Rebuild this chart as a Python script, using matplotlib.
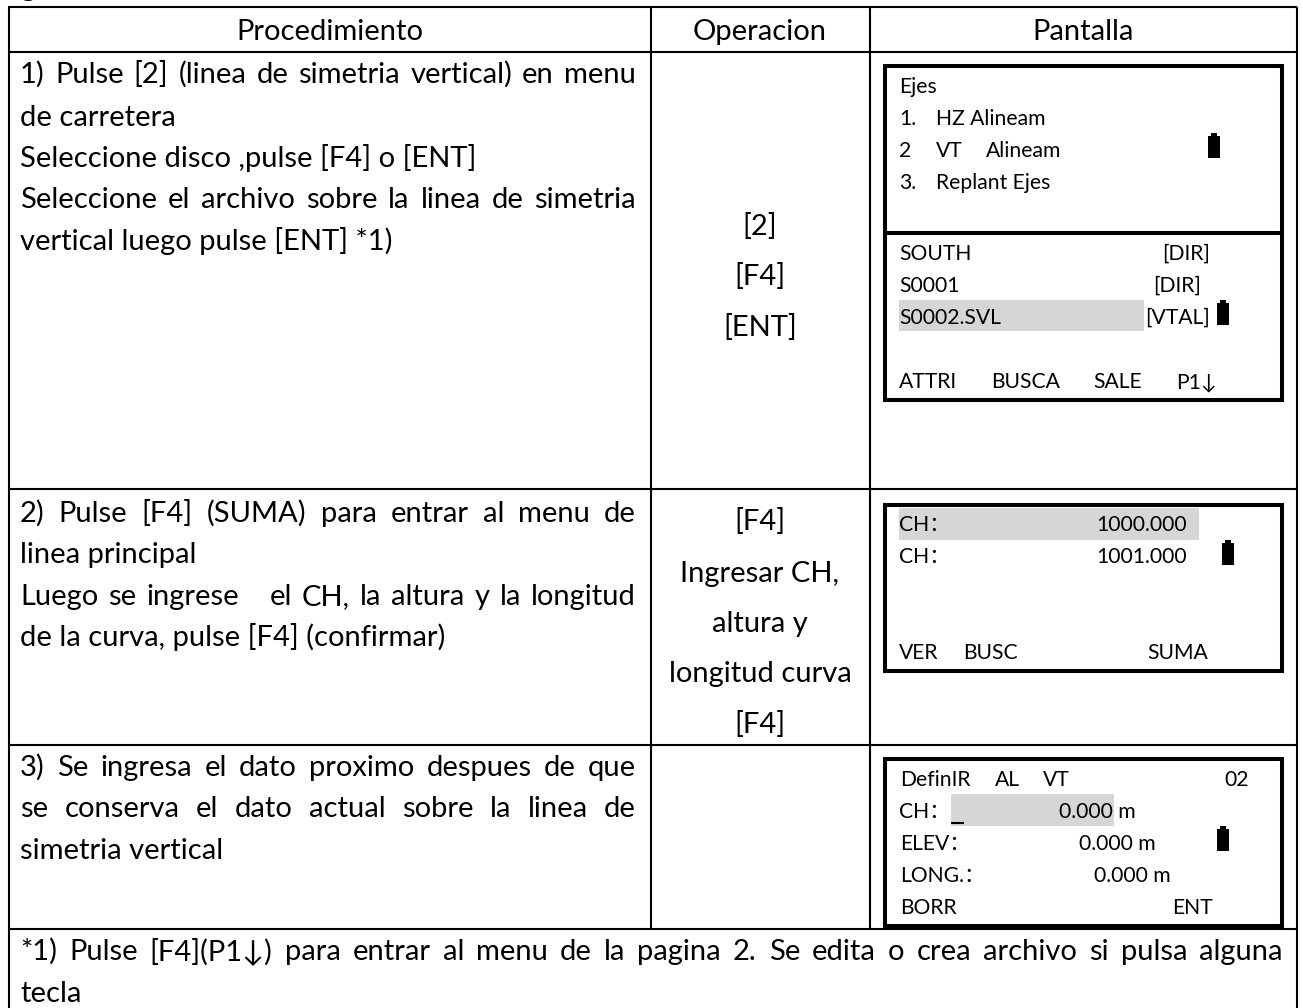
import matplotlib
matplotlib.use("Agg")
import matplotlib.pyplot as plt
from matplotlib.patches import Rectangle

FONT = ['Lato', 'Noto Sans CJK SC', 'DejaVu Sans']
plt.rcParams['font.family'] = FONT

BIG = 21
SMALL = 15.2

headers = ["Procedimiento", "Operacion", "Pantalla"]

# (texto, justificado)
proc_lines = [
    ("1) Pulse [2] (linea de simetria vertical) en menu", True),
    ("de carretera", False),
    ("Seleccione disco ,pulse [F4] o [ENT]", False),
    ("Seleccione el archivo sobre la linea de simetria", True),
    ("vertical luego pulse [ENT] *1)", False),
    ("2) Pulse [F4] (SUMA) para entrar al menu de", True),
    ("linea principal", False),
    ("Luego se ingrese   el CH, la altura y la longitud", True),
    ("de la curva, pulse [F4] (confirmar)", False),
    ("3) Se ingresa el dato proximo despues de que", True),
    ("se conserva el dato actual sobre la linea de", True),
    ("simetria vertical", False),
    ("*1) Pulse [F4](P1↓) para entrar al menu de la pagina 2. Se edita o crea archivo si pulsa alguna", True),
    ("tecla", False),
]
proc_y = [83, 126, 167, 208, 250, 522, 563, 605, 646, 776, 817, 859, 960, 1002]

oper_lines = ["[2]", "[F4]", "[ENT]", "[F4]", "Ingresar CH,", "altura y", "longitud curva", "[F4]"]
oper_y = [235, 285, 336, 530, 582, 632, 682, 733]

screen_labels = [
    "Ejes", "1.", "HZ Alineam", "2", "VT", "Alineam", "3.", "Replant Ejes",
    "SOUTH", "[DIR]", "S0001", "[DIR]", "S0002.SVL", "[VTAL]",
    "ATTRI", "BUSCA", "SALE", "P1↓",
    "CH：", "1000.000", "CH：", "1001.000", "VER", "BUSC", "SUMA",
    "DefinIR", "AL", "VT", "02", "CH：", "0.000 m", "ELEV：", "0.000 m",
    "LONG.：", "0.000 m", "BORR", "ENT",
]
screen_x = [
    899, 899, 936, 899, 936, 986, 899, 936,
    899, 1162, 899, 1153, 899, 1145,
    899, 991, 1093, 1176,
    899, 1096, 899, 1096, 899, 963, 1147,
    900, 995, 1043, 1224, 899, 1059, 900, 1079,
    900, 1094, 900, 1172,
]
screen_y = [
    93, 125, 125, 157, 157, 157, 189, 189,
    260, 260, 292, 292, 324, 324,
    388, 388, 388, 388,
    531, 531, 563, 563, 659, 659, 659,
    786, 786, 786, 786, 818, 818, 850, 850,
    882, 882, 914, 914,
]

# x0, y0, x1, y1
highlights = [(899, 300, 1144, 331), (899, 508, 1199, 540), (951, 794, 1114, 826)]
batteries = [(1208, 133), (1217, 300), (1222, 540), (1217, 826)]
screens = [(885, 66, 1282, 400), (885, 505, 1282, 671), (885, 759, 1282, 926)]

fig = plt.figure(figsize=(13.03, 10.08), dpi=100)
ax = fig.add_axes([0, 0, 1, 1])
ax.set_xlim(0, 1303)
ax.set_ylim(1008, 0)
ax.axis('off')


def justified(text, x0, x1, y, size):
    """Reparte las palabras entre x0 y x1, como el texto justificado del manual."""
    words = text.split(' ')
    renderer = fig.canvas.get_renderer()
    artists = [ax.text(0, y, w, fontsize=size, va='baseline', color='black') for w in words]
    widths = [a.get_window_extent(renderer).width if w else 0 for a, w in zip(artists, words)]
    gap = (x1 - x0 - sum(widths)) / (len(words) - 1)
    x = x0
    for a, w in zip(artists, widths):
        a.set_x(x)
        x += w + gap


# Bordes de la tabla, el de abajo queda fuera de la imagen
for y in [7, 52, 489, 745, 929]:
    ax.plot([8, 1297], [y, y], color='black', lw=1.5, solid_capstyle='butt')
for x in [9, 1297]:
    ax.plot([x, x], [7, 1008], color='black', lw=1.5, solid_capstyle='butt')
for x in [651, 870]:
    ax.plot([x, x], [7, 929], color='black', lw=1.5, solid_capstyle='butt')

ax.text(20, -4, "g", fontsize=BIG, va='baseline')

for label, x in zip(headers, [330, 760, 1083]):
    ax.text(x, 40, label, fontsize=BIG, ha='center', va='baseline')

for (line, just), y in zip(proc_lines, proc_y):
    if just:
        right = 1283 if line.startswith("*1)") else 636
        justified(line, 20, right, y, BIG)
    else:
        ax.text(20, y, line, fontsize=BIG, va='baseline')

for line, y in zip(oper_lines, oper_y):
    ax.text(760, y, line, fontsize=BIG, ha='center', va='baseline')

# Pantallas
for x0, y0, x1, y1 in highlights:
    ax.add_patch(Rectangle((x0, y0), x1 - x0, y1 - y0, fc='#d6d6d6', ec='none'))
for x0, y0, x1, y1 in screens:
    ax.add_patch(Rectangle((x0, y0), x1 - x0, y1 - y0, fc='none', ec='black', lw=2.9))
ax.plot([885, 1282], [233, 233], color='black', lw=2.9, solid_capstyle='butt')
ax.plot([951, 964], [823, 823], color='black', lw=1.5, solid_capstyle='butt')

for label, x, y in zip(screen_labels, screen_x, screen_y):
    ax.text(x, y, label, fontsize=SMALL, va='baseline')

for x, y in batteries:
    ax.add_patch(Rectangle((x, y + 3), 12, 22, fc='black', ec='none'))
    ax.add_patch(Rectangle((x + 3, y), 6, 3, fc='black', ec='none'))

fig.savefig("out.png", dpi=100, facecolor='white')
